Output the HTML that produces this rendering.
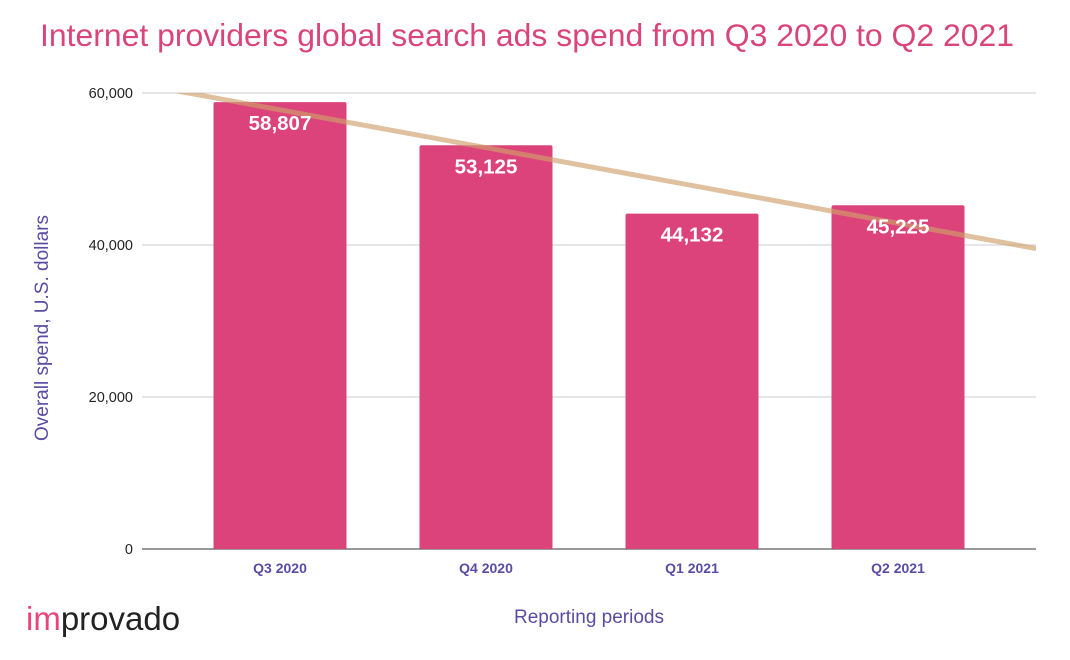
<!DOCTYPE html>
<html><head><meta charset="utf-8"><style>
html,body{margin:0;padding:0;background:#fff;width:1070px;height:660px;overflow:hidden}
svg{display:block;font-family:"Liberation Sans",sans-serif}
</style></head><body>
<svg id="c" width="1070" height="660">
<text x="527" y="46" text-anchor="middle" font-size="31.5" fill="#d9457a" textLength="974" lengthAdjust="spacingAndGlyphs">Internet providers global search ads spend from Q3 2020 to Q2 2021</text>
<text transform="translate(48,328) rotate(-90)" text-anchor="middle" font-size="19" fill="#5b4ba3">Overall spend, U.S. dollars</text>
<text x="589" y="623" text-anchor="middle" font-size="19" fill="#5b4ba3">Reporting periods</text>
<text x="26" y="630" font-size="33" fill="#222"><tspan fill="#e8457f">im</tspan>provado</text>
<defs><clipPath id="clip"><rect x="142" y="93" width="894" height="456"/></clipPath></defs>
<g id="grid"></g><g id="bars"></g><g id="trend" clip-path="url(#clip)"></g><g id="labels"></g>
</svg>
<script>
const categories=["Q3 2020","Q4 2020","Q1 2021","Q2 2021"];
const values=[58807,53125,44132,45225];
const yTicks=[0,20000,40000,60000];
const yTickLabels=["0","20,000","40,000","60,000"];
const NS="http://www.w3.org/2000/svg";
const X0=142,X1=1036,Y0=549,Y1=93,YMAX=60000,B0=177,STEP=206,BW=133;
const y=v=>Y0-(v/YMAX)*(Y0-Y1);
const xc=i=>B0+STEP*(i+0.5);
function mk(p,tag,a,t){const e=document.createElementNS(NS,tag);for(const k in a)e.setAttribute(k,a[k]);if(t!==undefined)e.textContent=t;document.getElementById(p).appendChild(e);return e;}
yTicks.forEach((t,i)=>{
 const l=mk('grid','line',{x1:X0,x2:X1,y1:y(t),y2:y(t),stroke:t===0?'#333':'#ccc','stroke-width':1});
 
 
 const tx=mk('grid','text',{x:133,y:y(t)+5,'text-anchor':'end','font-size':14.5,fill:'#222'},yTickLabels[i]);
 
 
});
values.forEach((v,i)=>{
 const r=mk('bars','rect',{x:xc(i)-BW/2,y:y(v),width:BW,height:Y0-y(v),fill:'#dc437a',rx:2});
 
 
 const t=mk('labels','text',{x:xc(i),y:y(v)+28,'text-anchor':'middle','font-size':20.5,'font-weight':'bold',fill:'#fff'},v.toLocaleString('en-US'));
 
 
 const c=mk('labels','text',{x:xc(i),y:573,'text-anchor':'middle','font-size':14,'font-weight':'bold',fill:'#5b4ba3'},categories[i]);
 
 
});
const n=values.length,mx=(n-1)/2,my=values.reduce((a,b)=>a+b)/n;
let sxy=0,sxx=0;values.forEach((v,i)=>{sxy+=(i-mx)*(v-my);sxx+=(i-mx)*(i-mx);});
const sl=sxy/sxx,ic=my-sl*mx;
const idx=x=>(x-B0)/STEP-0.5;
const tl=mk('trend','line',{x1:X0,y1:y(ic+sl*idx(X0)),x2:X1,y2:y(ic+sl*idx(X1)),stroke:'#cf9f6c','stroke-width':5,'stroke-opacity':0.65});


</script>
</body></html>
